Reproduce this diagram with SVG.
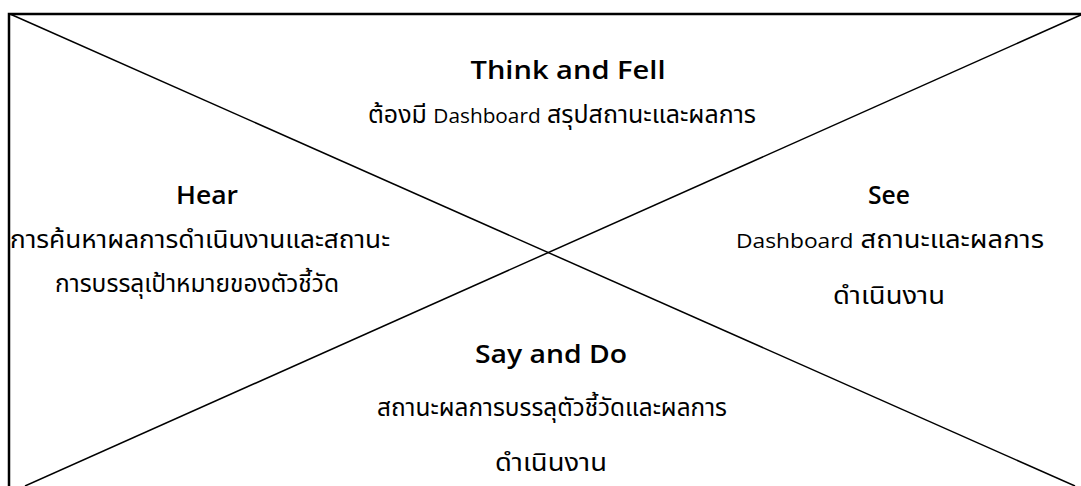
<svg xmlns="http://www.w3.org/2000/svg" width="1081" height="486" viewBox="0 0 1081 486">
<style>
.t{font-family:"Open Sans","Noto Sans Thai","Noto Sans",sans-serif;fill:#000;text-anchor:middle}
.h{font-size:25px;font-weight:600}
.b{font-size:24px}
.s{font-size:20px}
.ln{stroke:#000;stroke-width:1.5;fill:none}
</style>
<rect x="0" y="0" width="1081" height="486" fill="#fff"/>
<g id="connectors">
<line class="ln" x1="10" y1="14" x2="1075" y2="486"/>
<line class="ln" x1="1083" y1="14" x2="25" y2="486"/>
</g>
<g id="frame">
<path d="M9 490 V14 H1090" stroke="#000" stroke-width="2.5" fill="none"/>
</g>
<g id="think">
<text class="t h" x="568" y="79" textLength="195" lengthAdjust="spacingAndGlyphs">Think and Fell</text>
<text class="t b" x="562" y="123" textLength="388" lengthAdjust="spacingAndGlyphs">ต้องมี <tspan class="s">Dashboard</tspan> สรุปสถานะและผลการ</text>
</g>
<g id="hear">
<text class="t h" x="207" y="204" textLength="62" lengthAdjust="spacingAndGlyphs">Hear</text>
<text class="t b" x="200" y="248" textLength="380" lengthAdjust="spacingAndGlyphs">การค้นหาผลการดำเนินงานและสถานะ</text>
<text class="t b" x="197" y="292" textLength="284" lengthAdjust="spacingAndGlyphs">การบรรลุเป้าหมายของตัวชี้วัด</text>
</g>
<g id="see">
<text class="t h" x="889" y="204" textLength="42" lengthAdjust="spacingAndGlyphs">See</text>
<text class="t b" x="890" y="248" textLength="308" lengthAdjust="spacingAndGlyphs"><tspan class="s">Dashboard</tspan> สถานะและผลการ</text>
<text class="t b" x="889" y="304" textLength="112" lengthAdjust="spacingAndGlyphs">ดำเนินงาน</text>
</g>
<g id="say">
<text class="t h" x="551" y="363" textLength="152" lengthAdjust="spacingAndGlyphs">Say and Do</text>
<text class="t b" x="552" y="416" textLength="350" lengthAdjust="spacingAndGlyphs">สถานะผลการบรรลุตัวชี้วัดและผลการ</text>
<text class="t b" x="551" y="471" textLength="112" lengthAdjust="spacingAndGlyphs">ดำเนินงาน</text>
</g>
</svg>
